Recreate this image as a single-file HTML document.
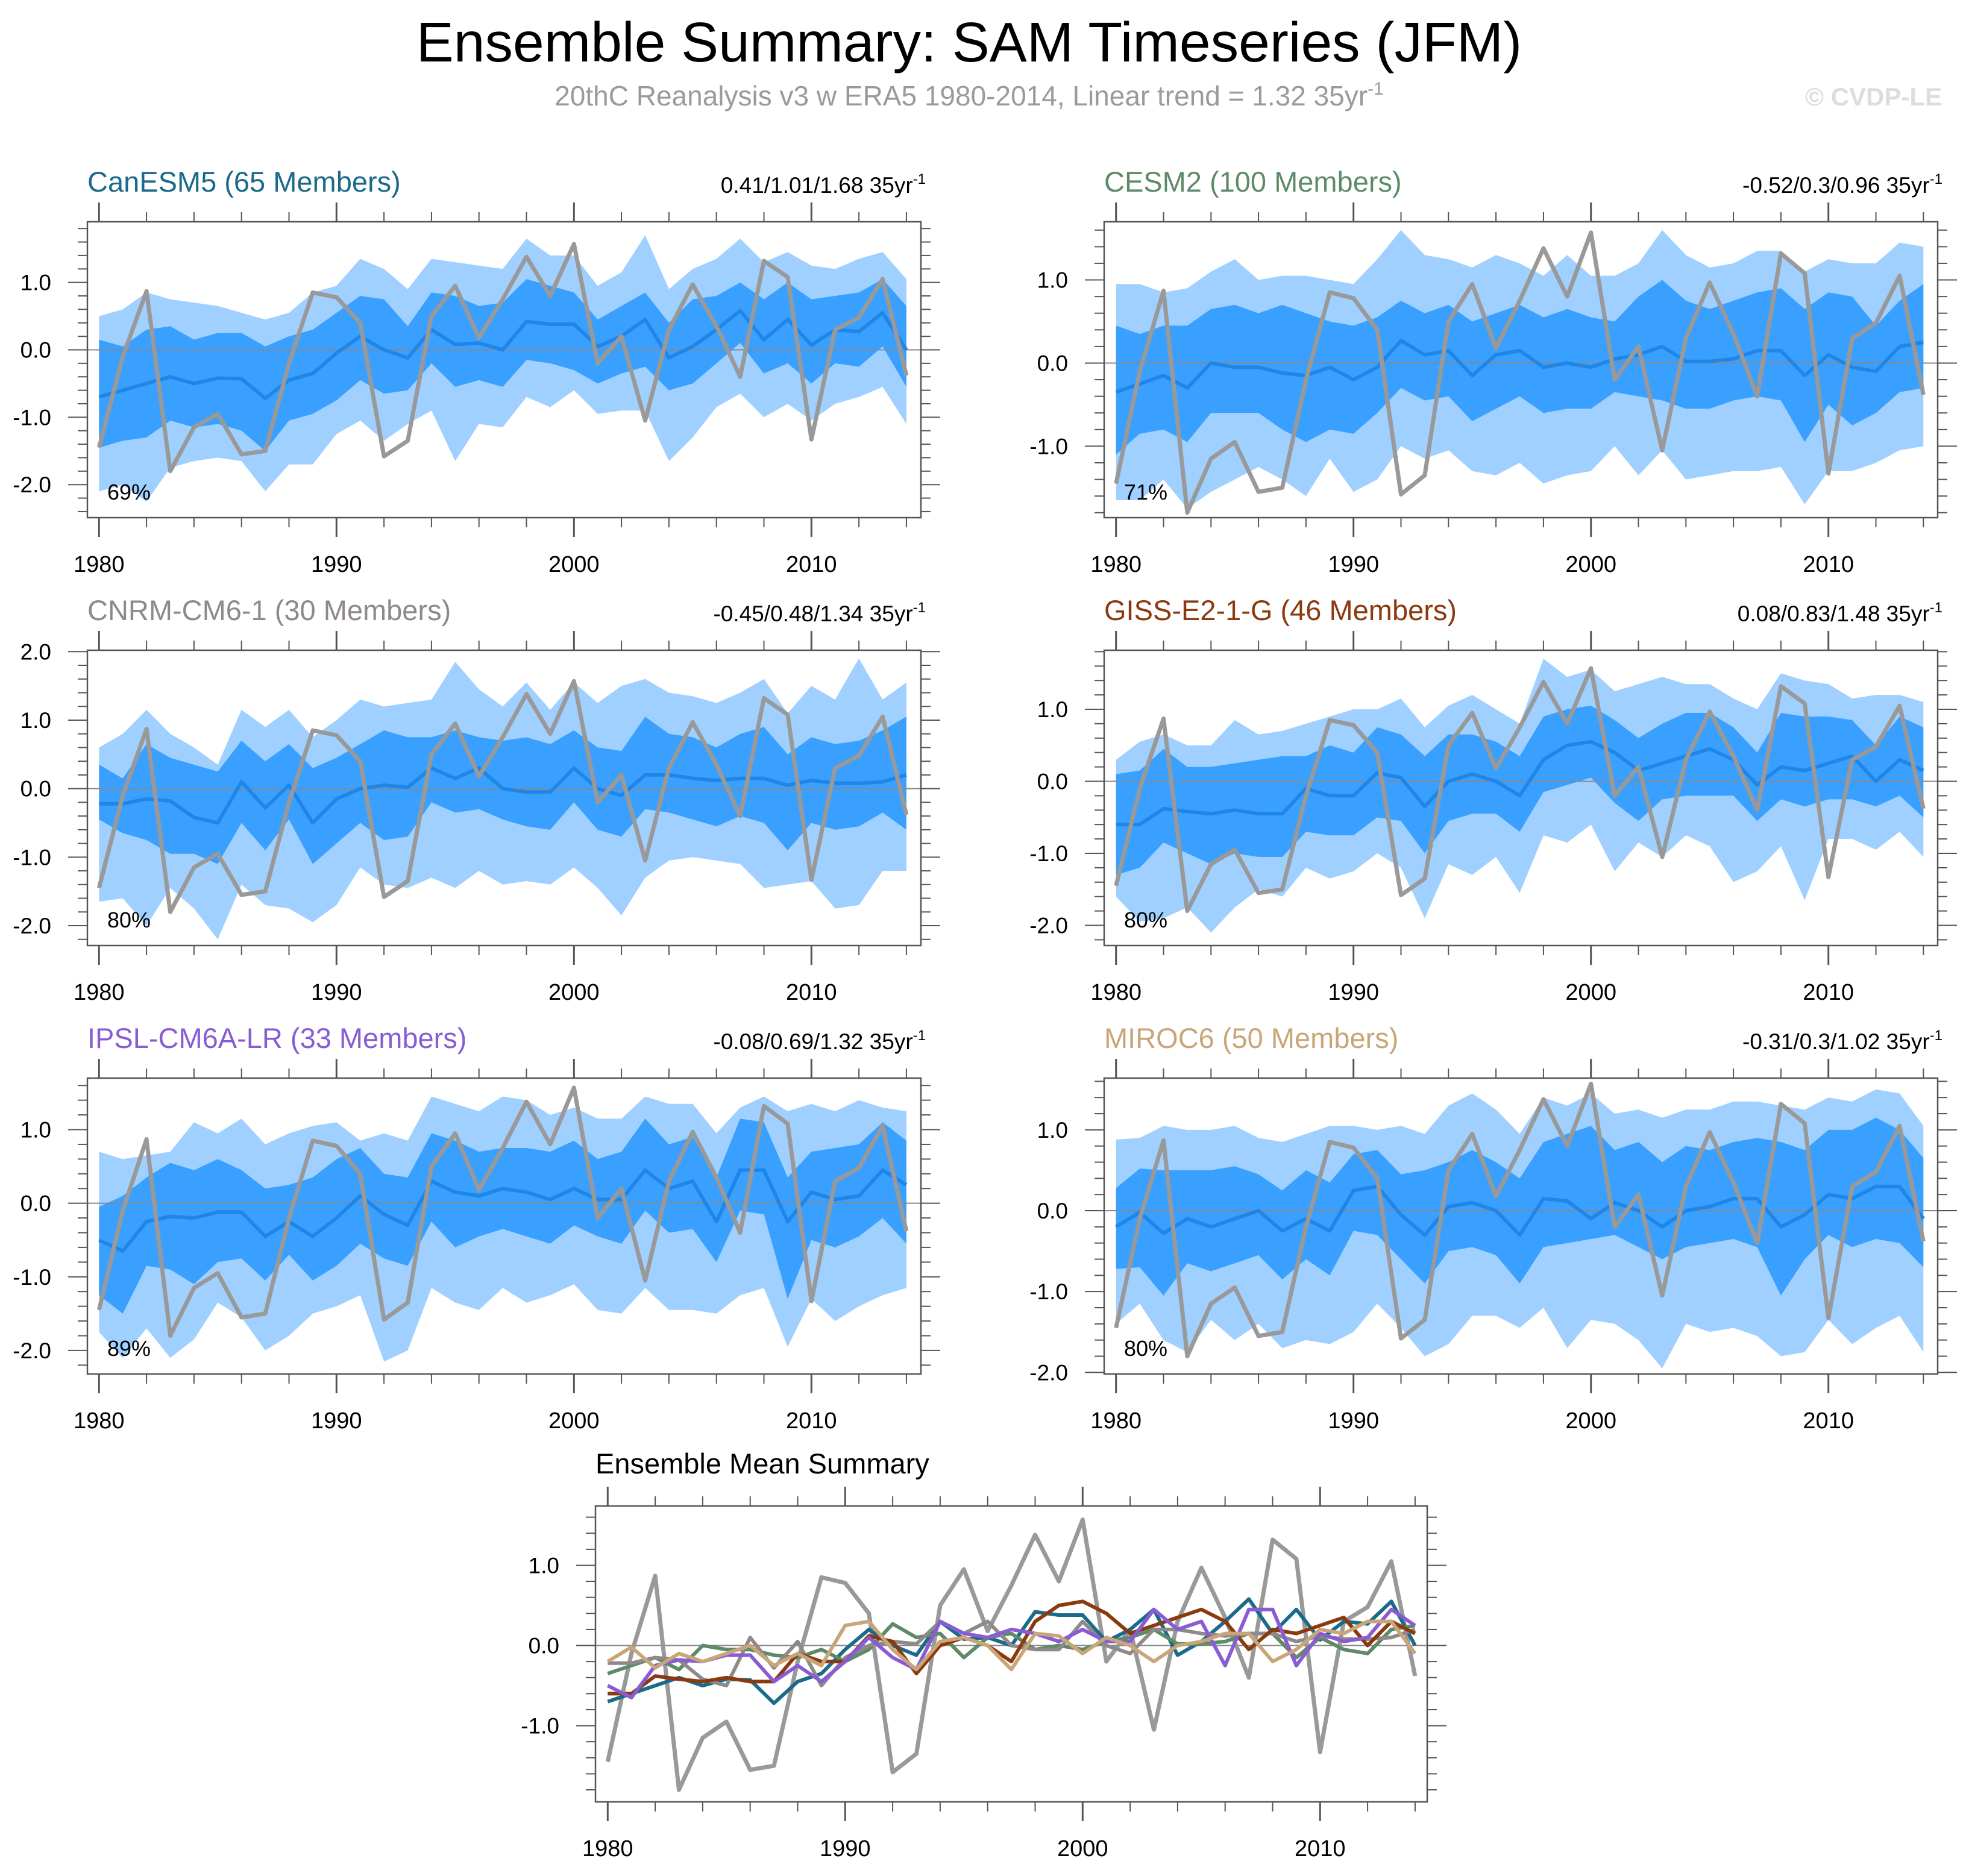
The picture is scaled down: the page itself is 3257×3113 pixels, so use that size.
<!DOCTYPE html>
<html><head><meta charset="utf-8"><style>
html,body{margin:0;padding:0;background:#fff;}
svg{display:block;font-family:"Liberation Sans",sans-serif;}
</style></head><body>
<svg id="chart" xmlns="http://www.w3.org/2000/svg" width="3257" height="3113" viewBox="0 0 3257 3113">
<text x="1608" y="102" font-size="93" text-anchor="middle" fill="#000">Ensemble Summary: SAM Timeseries (JFM)</text>
<text x="1608" y="175" font-size="46" text-anchor="middle" fill="#9a9a9a">20thC Reanalysis v3 w ERA5 1980-2014, Linear trend = 1.32 35yr<tspan font-size="30" dy="-18">-1</tspan></text>
<text x="3222" y="175" font-size="42" font-weight="bold" text-anchor="end" fill="#dddddd">© CVDP-LE</text>
<g id="plots"></g>
</svg>
<script>
const years = [];
for (let y = 1980; y <= 2014; y++) years.push(y);
const observed = [-1.45,-0.1,0.87,-1.8,-1.15,-0.95,-1.55,-1.5,-0.2,0.85,0.78,0.4,-1.58,-1.35,0.5,0.95,0.18,0.75,1.38,0.8,1.57,-0.2,0.2,-1.05,0.3,0.97,0.35,-0.4,1.32,1.08,-1.33,0.3,0.48,1.05,-0.38];
const modelNames = ["CanESM5 (65 Members)","CESM2 (100 Members)","CNRM-CM6-1 (30 Members)","GISS-E2-1-G (46 Members)","IPSL-CM6A-LR (33 Members)","MIROC6 (50 Members)"];
const trendLabels = ["0.41/1.01/1.68 35yr","-0.52/0.3/0.96 35yr","-0.45/0.48/1.34 35yr","0.08/0.83/1.48 35yr","-0.08/0.69/1.32 35yr","-0.31/0.3/1.02 35yr"];
const pctLabels = ["69%","71%","80%","80%","89%","80%"];
const yTickSets = [[1,0,-1,-2],[1,0,-1],[2,1,0,-1,-2],[1,0,-1,-2],[1,0,-1,-2],[1,0,-1,-2]];
const xTickLabels = [1980,1990,2000,2010];
const meanCanESM5 = [-0.7,-0.6,-0.5,-0.4,-0.5,-0.42,-0.43,-0.72,-0.45,-0.35,-0.05,0.2,0.0,-0.12,0.3,0.08,0.1,0.0,0.42,0.38,0.38,0.05,0.2,0.45,-0.12,0.05,0.3,0.58,0.15,0.45,0.07,0.3,0.27,0.55,0.0];
const innerHiCanESM5 = [0.15,0.05,0.3,0.35,0.15,0.25,0.25,0.05,0.2,0.3,0.55,0.8,0.75,0.35,0.85,0.8,0.65,0.7,1.05,0.95,0.85,0.45,0.65,0.85,0.4,0.75,0.8,1.0,0.75,1.0,0.75,0.8,0.85,1.05,0.65];
const innerLoCanESM5 = [-1.45,-1.35,-1.3,-1.05,-1.15,-1.1,-1.2,-1.5,-1.05,-0.95,-0.75,-0.45,-0.65,-0.6,-0.2,-0.55,-0.45,-0.55,-0.15,-0.2,-0.3,-0.5,-0.35,-0.25,-0.6,-0.5,-0.2,0.1,-0.35,-0.2,-0.5,-0.2,-0.25,0.05,-0.55];
const outerHiCanESM5 = [0.5,0.6,0.85,0.75,0.7,0.65,0.55,0.45,0.55,0.85,0.95,1.35,1.2,0.9,1.35,1.3,1.25,1.2,1.65,1.4,1.4,0.95,1.15,1.7,0.9,1.2,1.35,1.65,1.3,1.45,1.25,1.2,1.35,1.45,1.05];
const outerLoCanESM5 = [-2.1,-2.0,-2.25,-1.75,-1.65,-1.6,-1.65,-2.1,-1.7,-1.7,-1.25,-1.05,-1.35,-1.1,-0.9,-1.65,-1.1,-1.15,-0.7,-0.85,-0.6,-0.95,-0.9,-0.9,-1.65,-1.3,-0.85,-0.65,-1.0,-0.8,-1.05,-0.8,-0.7,-0.55,-1.1];
const meanCESM2 = [-0.35,-0.25,-0.15,-0.3,0.0,-0.05,-0.05,-0.12,-0.15,-0.05,-0.2,-0.05,0.27,0.1,0.15,-0.15,0.1,0.15,-0.05,0.0,-0.05,0.05,0.1,0.2,0.02,0.02,0.05,0.15,0.15,-0.15,0.1,-0.05,-0.1,0.2,0.25];
const innerHiCESM2 = [0.45,0.35,0.45,0.45,0.65,0.7,0.6,0.7,0.6,0.5,0.45,0.55,0.75,0.6,0.7,0.5,0.6,0.7,0.55,0.65,0.55,0.5,0.8,1.0,0.75,0.65,0.75,0.85,0.9,0.65,0.85,0.8,0.45,0.75,0.95];
const innerLoCESM2 = [-1.1,-0.85,-0.8,-0.95,-0.6,-0.6,-0.6,-0.8,-0.95,-0.8,-0.85,-0.6,-0.3,-0.45,-0.4,-0.7,-0.55,-0.4,-0.6,-0.55,-0.55,-0.35,-0.4,-0.45,-0.55,-0.55,-0.45,-0.4,-0.45,-0.95,-0.5,-0.75,-0.6,-0.35,-0.3];
const outerHiCESM2 = [0.95,0.95,0.85,0.9,1.1,1.25,1.0,1.05,1.05,1.0,0.95,1.25,1.6,1.3,1.25,1.15,1.3,1.2,1.05,1.3,1.05,1.05,1.2,1.6,1.3,1.15,1.2,1.35,1.35,1.1,1.25,1.2,1.2,1.45,1.4];
const outerLoCESM2 = [-1.65,-1.65,-1.4,-1.75,-1.55,-1.4,-1.25,-1.4,-1.6,-1.15,-1.55,-1.4,-1.0,-1.15,-1.05,-1.3,-1.35,-1.2,-1.45,-1.35,-1.3,-1.0,-1.35,-1.05,-1.4,-1.35,-1.3,-1.3,-1.25,-1.7,-1.3,-1.3,-1.2,-1.05,-1.0];
const meanCNRM = [-0.22,-0.22,-0.15,-0.18,-0.42,-0.5,0.1,-0.28,0.05,-0.5,-0.15,0.0,0.05,0.02,0.3,0.15,0.3,0.0,-0.05,-0.05,0.3,0.0,-0.1,0.2,0.2,0.15,0.12,0.15,0.15,0.05,0.12,0.08,0.08,0.1,0.2];
const innerHiCNRM = [0.35,0.15,0.65,0.45,0.35,0.25,0.7,0.4,0.65,0.3,0.45,0.65,0.85,0.75,0.75,0.85,0.75,0.7,0.75,0.65,0.85,0.6,0.55,1.05,0.8,0.75,0.6,0.8,0.9,0.5,0.75,0.65,0.7,0.85,1.05];
const innerLoCNRM = [-0.45,-0.65,-0.75,-0.95,-0.95,-1.1,-0.5,-0.9,-0.45,-1.1,-0.8,-0.5,-0.75,-0.7,-0.2,-0.35,-0.3,-0.45,-0.55,-0.6,-0.2,-0.6,-0.7,-0.3,-0.35,-0.45,-0.55,-0.4,-0.5,-0.9,-0.5,-0.6,-0.55,-0.35,-0.6];
const outerHiCNRM = [0.6,0.8,1.15,0.8,0.6,0.35,1.15,0.9,1.15,0.75,1.0,1.3,1.2,1.25,1.3,1.85,1.45,1.2,1.55,1.15,1.55,1.25,1.5,1.6,1.4,1.35,1.25,1.4,1.6,1.1,1.5,1.3,1.9,1.3,1.55];
const outerLoCNRM = [-1.65,-1.6,-2.0,-1.45,-1.75,-2.2,-1.4,-1.7,-1.75,-1.95,-1.7,-1.15,-1.4,-1.45,-1.3,-1.45,-1.2,-1.4,-1.35,-1.4,-1.15,-1.45,-1.85,-1.3,-1.05,-1.0,-1.05,-1.1,-1.45,-1.4,-1.35,-1.75,-1.7,-1.2,-1.2];
const meanGISS = [-0.6,-0.6,-0.38,-0.42,-0.45,-0.4,-0.45,-0.45,-0.1,-0.2,-0.2,0.12,0.05,-0.35,0.0,0.1,0.0,-0.2,0.3,0.5,0.55,0.4,0.15,0.25,0.35,0.45,0.3,-0.05,0.2,0.15,0.25,0.35,0.0,0.3,0.15];
const innerHiGISS = [0.1,0.15,0.45,0.2,0.2,0.25,0.3,0.35,0.35,0.5,0.4,0.75,0.65,0.35,0.65,0.65,0.55,0.35,0.9,1.0,1.05,0.85,0.6,0.8,0.95,0.95,0.75,0.4,0.95,0.9,0.9,0.85,0.5,0.9,0.75];
const innerLoGISS = [-1.3,-1.2,-0.85,-1.0,-1.15,-1.0,-1.05,-1.05,-0.7,-0.75,-0.75,-0.5,-0.55,-1.0,-0.55,-0.45,-0.45,-0.7,-0.15,-0.05,0.05,-0.3,-0.55,-0.25,-0.2,-0.2,-0.2,-0.55,-0.25,-0.35,-0.25,-0.25,-0.35,-0.2,-0.5];
const outerHiGISS = [0.3,0.55,0.65,0.5,0.5,0.85,0.65,0.7,0.8,0.9,1.0,1.0,1.15,0.75,1.05,1.2,1.0,0.8,1.7,1.45,1.55,1.25,1.35,1.45,1.35,1.35,1.15,1.0,1.5,1.4,1.35,1.15,1.2,1.2,1.1];
const outerLoGISS = [-1.6,-1.95,-1.9,-1.75,-2.1,-1.75,-1.5,-1.6,-1.2,-1.35,-1.25,-1.0,-1.2,-1.9,-1.15,-1.3,-1.05,-1.55,-0.75,-0.85,-0.6,-1.25,-0.85,-1.05,-0.75,-0.9,-1.4,-1.25,-0.9,-1.65,-0.8,-0.8,-0.95,-0.7,-1.05];
const meanIPSL = [-0.5,-0.65,-0.25,-0.18,-0.2,-0.12,-0.12,-0.45,-0.25,-0.45,-0.2,0.1,-0.15,-0.3,0.3,0.15,0.1,0.2,0.15,0.05,0.2,0.05,0.05,0.45,0.2,0.3,-0.25,0.45,0.45,-0.25,0.15,0.05,0.1,0.45,0.25];
const innerHiIPSL = [-0.05,0.1,0.35,0.55,0.45,0.6,0.45,0.2,0.25,0.35,0.6,0.75,0.4,0.35,0.95,0.85,0.7,0.75,0.75,0.7,0.85,0.6,0.7,1.15,0.8,0.9,0.35,1.15,1.1,0.35,0.7,0.75,0.8,1.1,0.85];
const innerLoIPSL = [-1.25,-1.5,-0.85,-0.9,-1.1,-0.8,-0.75,-1.05,-0.7,-1.05,-0.85,-0.55,-0.75,-0.85,-0.25,-0.6,-0.45,-0.35,-0.45,-0.55,-0.3,-0.45,-0.55,-0.1,-0.4,-0.35,-0.8,-0.1,-0.15,-1.3,-0.5,-0.6,-0.45,-0.2,-0.55];
const outerHiIPSL = [0.7,0.6,0.65,0.7,1.1,0.95,1.15,0.8,0.95,1.05,1.1,0.85,0.95,0.85,1.45,1.35,1.25,1.45,1.4,1.2,1.3,1.15,1.15,1.45,1.35,1.35,0.95,1.3,1.45,1.25,1.35,1.25,1.4,1.3,1.25];
const outerLoIPSL = [-1.75,-2.1,-1.7,-2.1,-1.85,-1.35,-1.55,-2.0,-1.8,-1.5,-1.4,-1.25,-2.15,-2.0,-1.15,-1.35,-1.45,-1.15,-1.35,-1.25,-1.1,-1.45,-1.5,-1.15,-1.45,-1.45,-1.5,-1.25,-1.15,-1.95,-1.3,-1.6,-1.4,-1.25,-1.15];
const meanMIROC6 = [-0.2,-0.02,-0.28,-0.1,-0.2,-0.1,0.0,-0.25,-0.1,-0.25,0.25,0.3,-0.05,-0.3,0.05,0.1,0.0,-0.3,0.15,0.12,-0.1,0.1,0.0,-0.2,0.0,0.05,0.15,0.15,-0.2,-0.05,0.2,0.15,0.3,0.3,-0.1];
const innerHiMIROC6 = [0.28,0.52,0.5,0.5,0.5,0.55,0.45,0.25,0.5,0.35,0.7,0.75,0.45,0.5,0.6,0.75,0.6,0.4,0.85,0.95,1.05,0.75,0.85,0.6,0.8,0.75,0.85,0.9,0.85,0.75,1.0,1.0,1.15,1.0,0.65];
const innerLoMIROC6 = [-0.72,-0.7,-1.05,-0.65,-0.75,-0.65,-0.55,-0.85,-0.6,-0.8,-0.25,-0.3,-0.6,-0.9,-0.5,-0.45,-0.55,-0.9,-0.45,-0.4,-0.35,-0.3,-0.45,-0.6,-0.45,-0.4,-0.35,-0.45,-1.05,-0.6,-0.3,-0.45,-0.35,-0.4,-0.7];
const outerHiMIROC6 = [0.88,0.9,1.05,1.0,1.0,1.05,0.9,0.85,0.95,1.05,1.05,1.0,1.05,0.95,1.3,1.45,1.25,0.95,1.4,1.3,1.45,1.2,1.25,1.15,1.25,1.25,1.35,1.35,1.3,1.25,1.4,1.35,1.5,1.45,1.05];
const outerLoMIROC6 = [-1.4,-1.15,-1.6,-1.75,-1.35,-1.6,-1.4,-1.7,-1.6,-1.65,-1.5,-1.15,-1.45,-1.8,-1.65,-1.3,-1.3,-1.45,-1.2,-1.7,-1.35,-1.4,-1.6,-1.95,-1.4,-1.5,-1.45,-1.55,-1.8,-1.75,-1.35,-1.65,-1.45,-1.3,-1.75];

const NS = "http://www.w3.org/2000/svg";
const root = document.getElementById("plots");
function mk(tag, attrs, parent) {
  const e = document.createElementNS(NS, tag);
  for (const k in attrs) e.setAttribute(k, attrs[k]);
  (parent || root).appendChild(e);
  return e;
}
const YW = 39.4;
const modelColors = ["#1b6a89","#5e8a68","#8f8989","#8b3a0f","#8a5cd4","#c9a679"];
const modelSlugs = ["canesm5","cesm2","cnrm-cm6-1","giss-e2-1-g","ipsl-cm6a-lr","miroc6"];
const means = [meanCanESM5,meanCESM2,meanCNRM,meanGISS,meanIPSL,meanMIROC6];
const innerHi = [innerHiCanESM5,innerHiCESM2,innerHiCNRM,innerHiGISS,innerHiIPSL,innerHiMIROC6];
const innerLo = [innerLoCanESM5,innerLoCESM2,innerLoCNRM,innerLoGISS,innerLoIPSL,innerLoMIROC6];
const outerHi = [outerHiCanESM5,outerHiCESM2,outerHiCNRM,outerHiGISS,outerHiIPSL,outerHiMIROC6];
const outerLo = [outerLoCanESM5,outerLoCESM2,outerLoCNRM,outerLoGISS,outerLoIPSL,outerLoMIROC6];
const panels = [
 {l:145,r:1528,x0:164.3,t:368,b:859,ymin:-2.49,ymax:1.90},
 {l:1832,r:3215,x0:1851.7,t:368,b:859,ymin:-1.86,ymax:1.70},
 {l:145,r:1528,x0:164.3,t:1079,b:1569,ymin:-2.29,ymax:2.02},
 {l:1832,r:3215,x0:1851.7,t:1079,b:1569,ymin:-2.28,ymax:1.82},
 {l:145,r:1528,x0:164.3,t:1789,b:2280,ymin:-2.32,ymax:1.70},
 {l:1832,r:3215,x0:1851.7,t:1789,b:2280,ymin:-2.02,ymax:1.64}
];
function axes(p) {
  const xs = yr => p.x0 + (yr - 1980) * YW;
  const ys = v => p.b - (v - p.ymin) / (p.ymax - p.ymin) * (p.b - p.t);
  return {xs, ys};
}
function frame(p, g, A, yticks) {
  mk("line",{x1:p.l,x2:p.r,y1:A.ys(0),y2:A.ys(0),stroke:"#888",'stroke-width':2},g);
  const box = mk("rect",{x:p.l,y:p.t,width:p.r-p.l,height:p.b-p.t,fill:"none",stroke:"#555",'stroke-width':2.5},g);
  
  
  for (let yr = 1980; yr <= 2014; yr += 2) {
    const major = (yr % 10 === 0);
    const len = major ? 32 : 16;
    const x = A.xs(yr);
    mk("line",{x1:x,x2:x,y1:p.b,y2:p.b+len,stroke:"#555",'stroke-width':major?3:2},g);
    mk("line",{x1:x,x2:x,y1:p.t,y2:p.t-len,stroke:"#555",'stroke-width':major?3:2},g);
  }
  for (const yr of xTickLabels) {
    const t = mk("text",{x:A.xs(yr),y:p.b+90,'font-size':38,'text-anchor':'middle',fill:'#000'},g);
    t.textContent = yr;
    
    
  }
  for (let k = Math.ceil(p.ymin*5); k <= Math.floor(p.ymax*5); k++) {
    const v = k/5; const y = A.ys(v);
    const major = (k % 5 === 0);
    const len = major ? 32 : 16;
    mk("line",{x1:p.l-len,x2:p.l,y1:y,y2:y,stroke:"#555",'stroke-width':2},g);
    mk("line",{x1:p.r,x2:p.r+len,y1:y,y2:y,stroke:"#555",'stroke-width':2},g);
  }
  for (const v of yticks) {
    const t = mk("text",{x:p.l-60,y:A.ys(v)+13,'font-size':37,'text-anchor':'end',fill:'#000'},g);
    t.textContent = v.toFixed(1);
    
    
  }
}
function poly(A, hi, lo) {
  let pts = [];
  hi.forEach((v,i)=>pts.push(A.xs(years[i]).toFixed(1)+","+A.ys(v).toFixed(1)));
  for (let i = lo.length-1; i >= 0; i--) pts.push(A.xs(years[i]).toFixed(1)+","+A.ys(lo[i]).toFixed(1));
  return pts.join(" ");
}
function line(A, arr) {
  return arr.map((v,i)=>A.xs(years[i]).toFixed(1)+","+A.ys(v).toFixed(1)).join(" ");
}
panels.forEach((p, m) => {
  const g = mk("g",{});
  
  
  const A = axes(p);
  const o = mk("polygon",{points:poly(A, outerHi[m], outerLo[m]),fill:"#9fd0ff"},g);
  
  
  const i = mk("polygon",{points:poly(A, innerHi[m], innerLo[m]),fill:"#39a0ff"},g);
  
  
  frame(p, g, A, yTickSets[m]);
  const ml = mk("polyline",{points:line(A, means[m]),fill:"none",stroke:"#1f86e8",'stroke-width':6,'stroke-linejoin':'round'},g);
  
  
  const ob = mk("polyline",{points:line(A, observed),fill:"none",stroke:"#999",'stroke-width':7,'stroke-linejoin':'round'},g);
  
  
  const tt = mk("text",{x:p.l,y:p.t-50,'font-size':47,fill:modelColors[m]},g);
  tt.textContent = modelNames[m];
  
  
  const tr = mk("text",{x:p.r+8,y:p.t-48,'font-size':37,'text-anchor':'end',fill:'#000'},g);
  
  
  tr.appendChild(document.createTextNode(trendLabels[m]));
  const sup = mk("tspan",{'font-size':24,dy:-15},tr);
  sup.textContent = "-1";
  const pc = mk("text",{x:p.l+33,y:p.b-30,'font-size':36,fill:'#000'},g);
  pc.textContent = pctLabels[m];
  
  
});
const sp = {l:988,r:2368,x0:1008.3,t:2499,b:2990,ymin:-1.95,ymax:1.74};
const sg = mk("g",{});


const SA = axes(sp);
frame(sp, sg, SA, [1,0,-1]);
const sob = mk("polyline",{points:line(SA, observed),fill:"none",stroke:"#999",'stroke-width':7,'stroke-linejoin':'round'},sg);


means.forEach((arr, m) => {
  const pl = mk("polyline",{points:line(SA, arr),fill:"none",stroke:modelColors[m],'stroke-width':6,'stroke-linejoin':'round'},sg);
  
  
});
const st = mk("text",{x:988,y:2445,'font-size':47,fill:'#000'},sg);
st.textContent = "Ensemble Mean Summary";


</script>
</body></html>
